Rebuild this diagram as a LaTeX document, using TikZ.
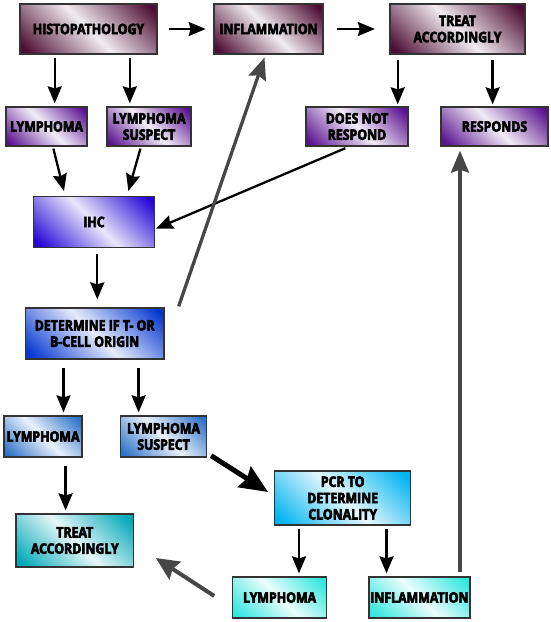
\documentclass[tikz,border=0pt]{standalone}
\usepackage{fontspec}
\setmainfont{Open Sans}
\newfontfamily\boxfont{Open Sans}[FakeStretch=0.85, FakeBold=4]
\usetikzlibrary{arrows.meta}
\definecolor{cmaroon}{HTML}{4D0C33}
\definecolor{cpurple}{HTML}{5A1290}
\definecolor{cihc}{HTML}{2506D6}
\definecolor{cdet}{HTML}{0638D0}
\definecolor{clymb}{HTML}{2C72C8}
\definecolor{cpcr}{HTML}{00B4F0}
\definecolor{cteal}{HTML}{00A8B8}
\definecolor{caqua}{HTML}{30E6DE}
\definecolor{cgrey}{HTML}{474747}
\pgfdeclarehorizontalshading{shmaroon}{100bp}{color(0bp)=(cmaroon); color(18bp)=(cmaroon); color(50bp)=(cmaroon!8); color(82bp)=(cmaroon); color(100bp)=(cmaroon)}
\pgfdeclarehorizontalshading{shpurple}{100bp}{color(0bp)=(cpurple); color(18bp)=(cpurple); color(50bp)=(cpurple!8); color(82bp)=(cpurple); color(100bp)=(cpurple)}
\pgfdeclarehorizontalshading{shihc}{100bp}{color(0bp)=(cihc); color(18bp)=(cihc); color(50bp)=(cihc!10); color(82bp)=(cihc); color(100bp)=(cihc)}
\pgfdeclarehorizontalshading{shdet}{100bp}{color(0bp)=(cdet); color(18bp)=(cdet); color(50bp)=(cdet!10); color(82bp)=(cdet); color(100bp)=(cdet)}
\pgfdeclarehorizontalshading{shlymb}{100bp}{color(0bp)=(clymb); color(18bp)=(clymb); color(50bp)=(clymb!10); color(82bp)=(clymb); color(100bp)=(clymb)}
\pgfdeclarehorizontalshading{shpcr}{100bp}{color(0bp)=(cpcr); color(18bp)=(cpcr); color(50bp)=(cpcr!10); color(82bp)=(cpcr); color(100bp)=(cpcr)}
\pgfdeclarehorizontalshading{shteal}{100bp}{color(0bp)=(cteal); color(18bp)=(cteal); color(50bp)=(cteal!10); color(82bp)=(cteal); color(100bp)=(cteal)}
\pgfdeclarehorizontalshading{shaqua}{100bp}{color(0bp)=(caqua); color(18bp)=(caqua); color(50bp)=(caqua!10); color(82bp)=(caqua); color(100bp)=(caqua)}
\tikzset{
  bx/.style={draw=black!80, line width=1.3pt, shading angle=45, inner sep=0pt,
    align=center, font=\boxfont\bfseries\fontsize{14.5}{16.3}\selectfont, text=black},
  arr/.style={draw=black, line width=2.3pt, -{Stealth[length=17pt,width=14pt,inset=2pt]}},
  garr/.style={draw=cgrey, line width=3.3pt, -{Stealth[length=22pt,width=18pt,inset=3pt]}},
  garrb/.style={draw=cgrey, line width=4pt, -{Stealth[length=23pt,width=21pt,inset=3pt]}},
  tarr/.style={draw=black, line width=5pt, -{Stealth[length=28pt,width=24pt,inset=3pt]}}
}
\begin{document}
\begin{tikzpicture}[x=1pt,y=-1pt]
\useasboundingbox (0,0) rectangle (550,622);
% top row
\node[bx, shading=shmaroon, minimum width=137pt, minimum height=50pt] (histo) at (88.5,29) {HISTOPATHOLOGY};
\node[bx, shading=shmaroon, minimum width=109pt, minimum height=50pt] (inflam) at (268.5,29) {INFLAMMATION};
\node[bx, shading=shmaroon, minimum width=135pt, minimum height=50pt] (treat) at (457.5,29) {TREAT\\ACCORDINGLY};
% second row
\node[bx, shading=shpurple, minimum width=81pt, minimum height=39pt] (lym1) at (46.5,126.5) {LYMPHOMA};
\node[bx, shading=shpurple, minimum width=84pt, minimum height=39pt] (sus1) at (149,126.5) {LYMPHOMA\\SUSPECT};
\node[bx, shading=shpurple, minimum width=102pt, minimum height=39pt] (dnr) at (357,126.5) {DOES NOT\\RESPOND};
\node[bx, shading=shpurple, minimum width=107pt, minimum height=39pt] (resp) at (494.5,126.5) {RESPONDS};
% IHC and determine
\node[bx, shading=shihc, minimum width=121pt, minimum height=51pt] (ihc) at (94,222) {IHC};
\node[bx, shading=shdet, minimum width=138.6pt, minimum height=51pt] (det) at (94.7,333.5) {DETERMINE IF T- OR\\B-CELL ORIGIN};
% lower rows
\node[bx, shading=shlymb, minimum width=78pt, minimum height=41pt] (lym2) at (43,436.5) {LYMPHOMA};
\node[bx, shading=shlymb, minimum width=86pt, minimum height=41pt] (sus2) at (163.5,436.5) {LYMPHOMA\\SUSPECT};
\node[bx, shading=shpcr, minimum width=136pt, minimum height=54pt] (pcr) at (342.7,498) {PCR TO\\DETERMINE\\CLONALITY};
\node[bx, shading=shteal, minimum width=117.7pt, minimum height=53pt] (treat2) at (74.8,540.5) {TREAT\\ACCORDINGLY};
\node[bx, shading=shaqua, minimum width=94pt, minimum height=41pt] (lym3) at (279.6,597.5) {LYMPHOMA};
\node[bx, shading=shaqua, minimum width=101pt, minimum height=41pt] (inf3) at (419.4,597.5) {INFLAMMATION};
% connectors
\draw[arr, shorten <=11.5pt, shorten >=7.7pt] (histo.east) -- (inflam.west);
\draw[arr, shorten <=13.7pt, shorten >=14.5pt] (inflam.east) -- (treat.west);
\draw[arr, shorten <=3pt, shorten >=3pt] ([xshift=-33.8pt]histo.south) -- ([xshift=-33.8pt]histo.south |- lym1.north);
\draw[arr, shorten <=3pt, shorten >=3pt] ([xshift=41.3pt]histo.south) -- ([xshift=41.3pt]histo.south |- sus1.north);
\draw[arr, shorten <=5pt, shorten >=2pt] ([xshift=-59.8pt]treat.south) -- ([xshift=-59.8pt]treat.south |- dnr.north);
\draw[arr, shorten <=5pt, shorten >=2pt] ([xshift=35.1pt]treat.south) -- ([xshift=35.1pt]treat.south |- resp.north);
\draw[arr, shorten <=2pt, shorten >=5pt] ([xshift=6.4pt]lym1.south) -- ([xshift=-28.8pt]ihc.north);
\draw[arr, shorten <=2pt, shorten >=5pt] ([xshift=-8pt]sus1.south) -- ([xshift=33pt]ihc.north);
\draw[arr, shorten <=4pt, shorten >=1pt] ([xshift=-8pt]dnr.south) -- ([yshift=-7pt]ihc.east);
\draw[garr, shorten >=3pt] ([xshift=14pt,yshift=1pt]det.north east) -- ([xshift=-3pt]inflam.south);
\draw[arr, shorten <=6pt, shorten >=8pt] ([xshift=3.3pt]ihc.south) -- ([xshift=3.3pt]ihc.south |- det.north);
\draw[arr, shorten <=8pt, shorten >=3pt] ([xshift=-31.2pt]det.south) -- ([xshift=-31.2pt]det.south |- lym2.north);
\draw[arr, shorten <=8pt, shorten >=3pt] ([xshift=43.9pt]det.south) -- ([xshift=43.9pt]det.south |- sus2.north);
\draw[tarr] ([xshift=4pt,yshift=2pt]sus2.south east) -- ([xshift=-6pt,yshift=6pt]pcr.west);
\draw[arr, shorten <=8pt, shorten >=3pt] ([xshift=22.6pt]lym2.south) -- ([xshift=22.6pt]lym2.south |- treat2.north);
\draw[arr, shorten <=3pt, shorten >=3pt] ([xshift=-43.7pt]pcr.south) -- ([xshift=-43.7pt]pcr.south |- lym3.north);
\draw[arr, shorten <=3pt, shorten >=3pt] ([xshift=43.8pt]pcr.south) -- ([xshift=43.8pt]pcr.south |- inf3.north);
\draw[garrb] ([xshift=-17.7pt,yshift=1.5pt]lym3.west) -- ([xshift=21.5pt,yshift=-17.5pt]treat2.east);
\draw[garr, shorten <=4pt, shorten >=4pt] ([xshift=40.6pt]inf3.north) -- ([xshift=40.6pt]inf3.north |- resp.south);
\end{tikzpicture}
\end{document}
